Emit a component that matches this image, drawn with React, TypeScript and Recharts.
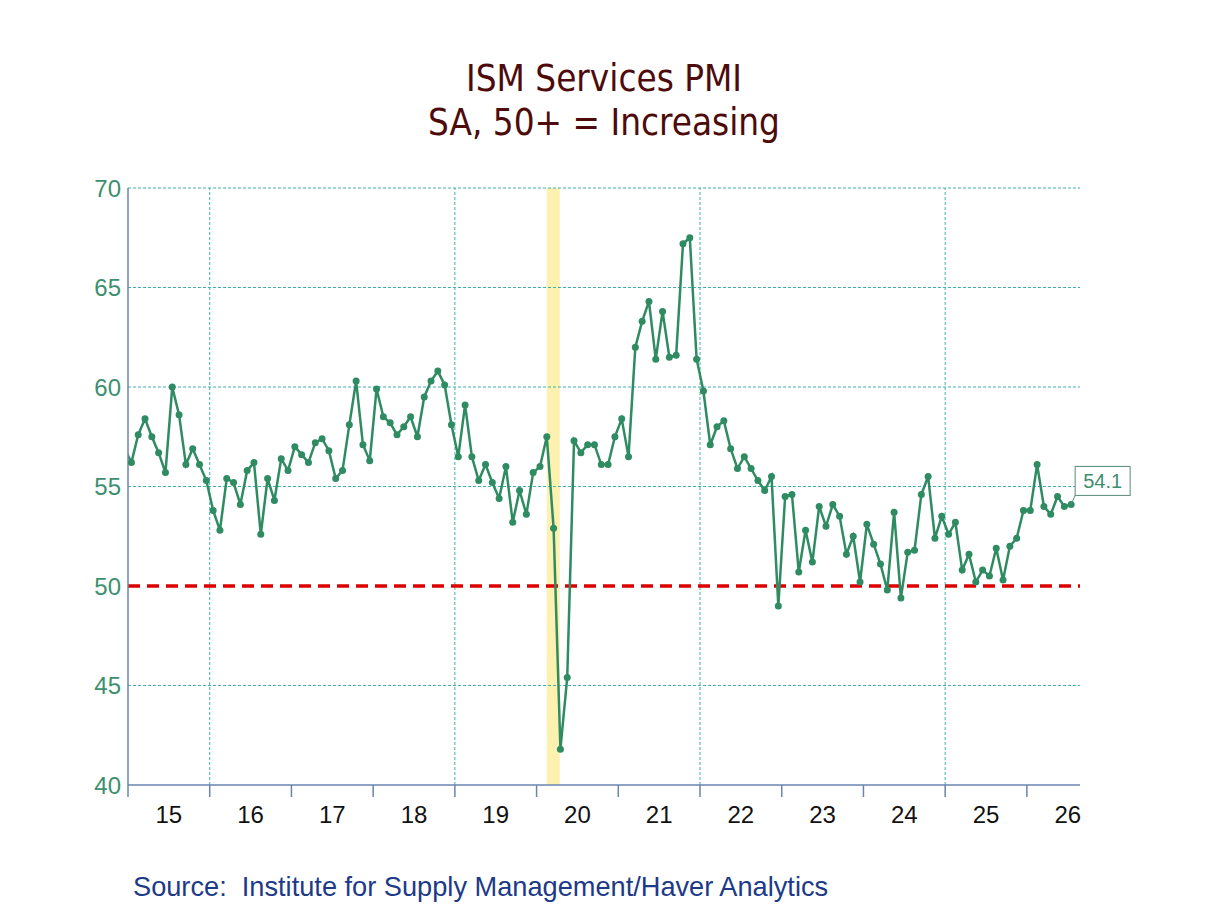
import React from "react";
import { LineChart, Line, XAxis, YAxis, ReferenceLine, ReferenceArea } from "recharts";

// ISM Services PMI, monthly (Jan..Dec)
const DEC_2014 = 56.9;
const PMI_2015 = [56.2, 57.6, 58.4, 57.5, 56.7, 55.7, 60.0, 58.6, 56.1, 56.9, 56.1, 55.3];
const PMI_2016 = [53.8, 52.8, 55.4, 55.2, 54.1, 55.8, 56.2, 52.6, 55.4, 54.3, 56.4, 55.8];
const PMI_2017 = [57.0, 56.6, 56.2, 57.2, 57.4, 56.8, 55.4, 55.8, 58.1, 60.3, 57.1, 56.3];
const PMI_2018 = [59.9, 58.5, 58.2, 57.6, 58.0, 58.5, 57.5, 59.5, 60.3, 60.8, 60.1, 58.1];
const PMI_2019 = [56.5, 59.1, 56.5, 55.3, 56.1, 55.2, 54.4, 56.0, 53.2, 54.8, 53.6, 55.7];
const PMI_2020 = [56.0, 57.5, 52.9, 41.8, 45.4, 57.3, 56.7, 57.1, 57.1, 56.1, 56.1, 57.5];
const PMI_2021 = [58.4, 56.5, 62.0, 63.3, 64.3, 61.4, 63.8, 61.5, 61.6, 67.2, 67.5, 61.4];
const PMI_2022 = [59.8, 57.1, 58.0, 58.3, 56.9, 55.9, 56.5, 55.9, 55.3, 54.8, 55.5, 49.0];
const PMI_2023 = [54.5, 54.6, 50.7, 52.8, 51.2, 54.0, 53.0, 54.1, 53.5, 51.6, 52.5, 50.2];
const PMI_2024 = [53.1, 52.1, 51.1, 49.8, 53.7, 49.4, 51.7, 51.8, 54.6, 55.5, 52.4, 53.5];
const PMI_2025 = [52.6, 53.2, 50.8, 51.6, 50.2, 50.8, 50.5, 51.9, 50.3, 52.0, 52.4, 53.8];
const PMI_2026 = [53.8, 56.1, 54.0, 53.6, 54.5, 54.0, 54.1];

const YEAR_LABELS = ["15", "16", "17", "18", "19", "20", "21", "22", "23", "24", "25", "26"];
const Y_TICKS = [40, 45, 50, 55, 60, 65, 70];
const GRID_Y = [45, 55, 60, 65, 70];
const GRID_X_YEARS = [1, 4, 7, 10]; // years after 2015 with a vertical grid line
const RECESSION = [61.5, 63.4]; // months after Jan 2015
const X_MAX = 139.8;

const values = [
  ...PMI_2015, ...PMI_2016, ...PMI_2017, ...PMI_2018, ...PMI_2019, ...PMI_2020,
  ...PMI_2021, ...PMI_2022, ...PMI_2023, ...PMI_2024, ...PMI_2025, ...PMI_2026,
];
const data = [
  { x: -0.5, pmi: DEC_2014 },
  ...values.map((v, i) => ({ x: i + 0.5, pmi: v })),
];
const yearStarts = YEAR_LABELS.map((_, i) => i * 12);

const W = 1208;
const H = 906;
const MARGIN = { top: 188, right: 128, bottom: 109, left: 68 };
const Y_AXIS_W = 60;
const PLOT_W = W - MARGIN.left - Y_AXIS_W - MARGIN.right;
const HALF_YEAR_PX = (PLOT_W / X_MAX) * 6;

const GREEN = "#2e8b62";
const AXIS = "#6b84b0";
const GRID = "#40b2aa";
const FONT = "Liberation Sans, Arial, sans-serif";

// year label sits in the middle of the year, tick line at its start
const YearTick = (props: any) => {
  const { x, y, payload } = props;
  const label = YEAR_LABELS[Math.round(payload.value / 12)];
  return (
    <text
      x={x + HALF_YEAR_PX}
      y={y}
      dy="0.71em"
      textAnchor="middle"
      fill="#111"
      fontSize={24}
      fontFamily={FONT}
    >
      {label}
    </text>
  );
};

const LastLabel = (props: any) => {
  const { x, y, index, value } = props;
  if (index !== data.length - 1) return <g />;
  return (
    <g>
      <line x1={x} y1={y} x2={x + 4} y2={y - 9} stroke="#5a8a7a" strokeWidth={1} />
      <rect x={x + 4} y={y - 38} width={55} height={29} fill="#fff" stroke="#5a8a7a" strokeWidth={1} />
      <text x={x + 31.5} y={y - 16} textAnchor="middle" fill="#3d8f6f" fontSize={20} fontFamily={FONT}>
        {Number(value).toFixed(1)}
      </text>
    </g>
  );
};

export default function App() {
  return (
    <div style={{ position: "absolute", left: 0, top: 0, width: W, height: H, background: "#fff" }}>
      <div
        style={{
          position: "absolute",
          left: 0,
          top: 57,
          width: W,
          textAlign: "center",
          color: "#4d0b0b",
          fontFamily: "DejaVu Sans Condensed, DejaVu Sans, sans-serif",
          fontSize: 36.5,
          lineHeight: "44px",
        }}
      >
        <div>ISM Services PMI</div>
        <div>SA, 50+ = Increasing</div>
      </div>
      <LineChart width={W} height={H} data={data} margin={MARGIN}>
        <ReferenceArea
          x1={RECESSION[0]}
          x2={RECESSION[1]}
          y1={40}
          y2={70}
          fill="#fdf1b0"
          fillOpacity={1}
          stroke="none"
        />
        {GRID_Y.map((v) => (
          <ReferenceLine key={"gy" + v} y={v} stroke={GRID} strokeDasharray="3 2" strokeWidth={1} />
        ))}
        {GRID_X_YEARS.map((yr) => (
          <ReferenceLine key={"gx" + yr} x={yr * 12} stroke={GRID} strokeDasharray="3 2" strokeWidth={1} />
        ))}
        <XAxis
          dataKey="x"
          type="number"
          domain={[0, X_MAX]}
          allowDataOverflow
          ticks={yearStarts}
          tick={YearTick}
          tickSize={12}
          tickMargin={9}
          height={12}
          axisLine={{ stroke: AXIS, strokeWidth: 1.5 }}
          tickLine={{ stroke: AXIS, strokeWidth: 1.5 }}
        />
        <YAxis
          type="number"
          domain={[40, 70]}
          ticks={Y_TICKS}
          allowDataOverflow
          width={Y_AXIS_W}
          tickLine={false}
          tickSize={0}
          tickMargin={7}
          axisLine={{ stroke: AXIS, strokeWidth: 1.5 }}
          tick={{ fill: "#3d8f6f", fontSize: 24, fontFamily: FONT }}
        />
        <ReferenceLine y={50} stroke="#dd0000" strokeWidth={3.5} strokeDasharray="12 7" />
        <Line
          dataKey="pmi"
          type="linear"
          stroke={GREEN}
          strokeWidth={2.5}
          dot={{ r: 3.5, fill: GREEN, stroke: GREEN, strokeWidth: 0 }}
          activeDot={false}
          isAnimationActive={false}
          label={LastLabel}
        />
      </LineChart>
      <div
        style={{
          position: "absolute",
          left: 133,
          top: 871,
          color: "#1c3a87",
          fontFamily: FONT,
          fontSize: 27.2,
          whiteSpace: "pre",
        }}
      >
        {"Source:  Institute for Supply Management/Haver Analytics"}
      </div>
    </div>
  );
}
